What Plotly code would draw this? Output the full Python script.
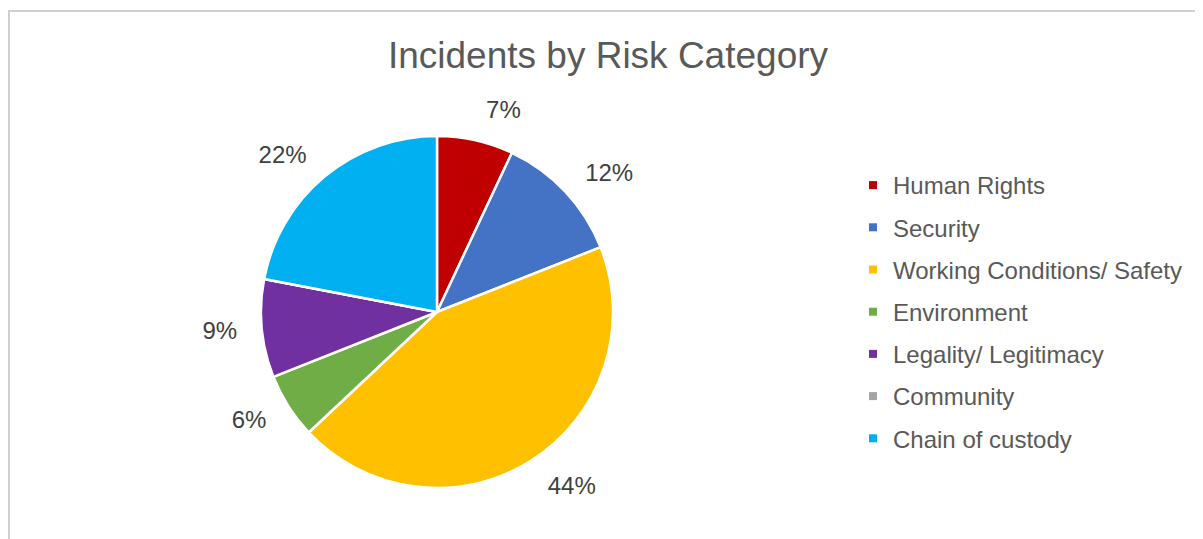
import plotly.graph_objects as go

categories = ["Human Rights", "Security", "Working Conditions/ Safety", "Environment",
              "Legality/ Legitimacy", "Community", "Chain of custody"]
shares = [7, 12, 44, 6, 9, 0, 22]
colors = ["#C00000", "#4472C4", "#FFC000", "#70AD47", "#7030A0", "#A5A5A5", "#00B0F0"]

W, H = 1203, 539
OFF = 8  # page body margin
cx, cy, r = 437 - OFF, 312 - OFF, 176
r_lab = r + 18

labels_text = [f"{v}%" if v > 0 else "" for v in shares]


def dom(rad):
    return dict(x=[(cx - rad) / W, (cx + rad) / W], y=[1 - (cy + rad) / H, 1 - (cy - rad) / H])


fig = go.Figure()
fig.add_trace(go.Pie(
    labels=categories, values=shares, sort=False, direction="clockwise", rotation=0,
    marker=dict(colors=colors, line=dict(color="white", width=2.5)),
    textinfo="none", showlegend=False, domain=dom(r),
))
fig.add_trace(go.Pie(
    labels=categories, values=shares, sort=False, direction="clockwise", rotation=0,
    marker=dict(colors=["rgba(0,0,0,0)"] * len(shares), line=dict(width=0)),
    text=labels_text, textinfo="text", textposition="outside",
    outsidetextfont=dict(family="Liberation Sans, Arial", size=24, color="#404040"),
    showlegend=False, hoverinfo="skip", domain=dom(r_lab),
))

for i, (name, col) in enumerate(zip(categories, colors)):
    fig.add_trace(go.Scatter(
        x=[None], y=[None], mode="markers", name=name, legendgroup=f"g{i}",
        marker=dict(symbol="square", size=8, color=col),
        showlegend=True,
    ))

fig.update_layout(
    width=W, height=H,
    margin=dict(l=0, r=0, t=0, b=0),
    paper_bgcolor="white", plot_bgcolor="white",
    xaxis=dict(visible=False), yaxis=dict(visible=False),
    title=dict(text="Incidents by Risk Category", x=(608 - OFF) / W, xanchor="center",
               y=1 - (55 - OFF) / H, yanchor="middle",
               font=dict(family="Liberation Sans, Arial", size=37, color="#595959")),
    legend=dict(x=(853 - OFF) / W, xanchor="left", y=1 - (312 - OFF) / H, yanchor="middle",
                font=dict(family="Liberation Sans, Arial", size=24, color="#595959"),
                tracegroupgap=8, bgcolor="rgba(0,0,0,0)"),
    shapes=[dict(type="rect", xref="paper", yref="paper",
                 x0=(9 - OFF) / W, x1=1.05, y0=-0.05, y1=1 - (11 - OFF) / H,
                 line=dict(color="#D0D0D0", width=2), fillcolor="rgba(0,0,0,0)", layer="below")],
)

fig.write_html("out.html")
